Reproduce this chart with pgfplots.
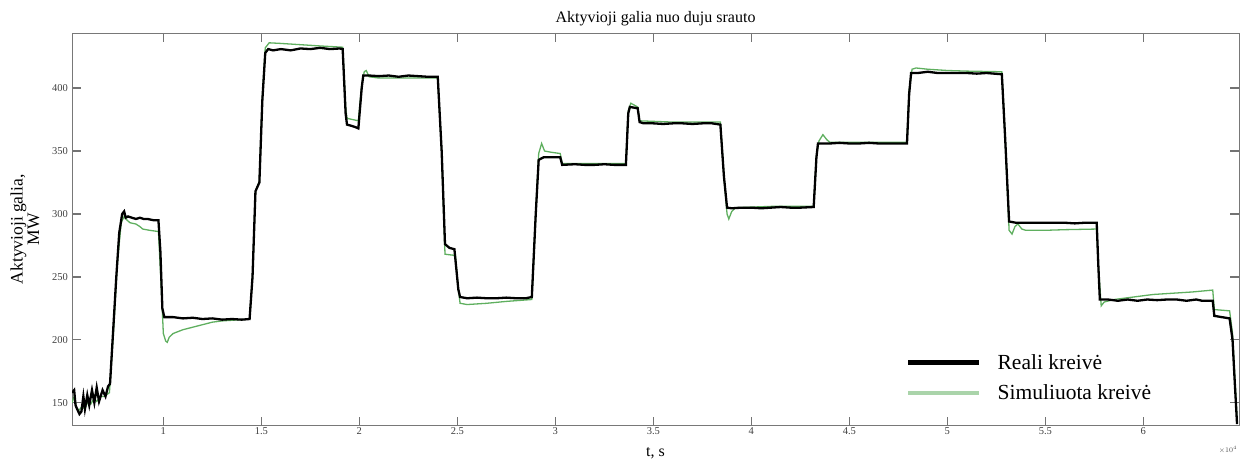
\documentclass[border=0pt]{standalone}
\usepackage{fontspec}
\setmainfont{Liberation Serif}
\usepackage{pgfplots}
\pgfplotsset{compat=1.18}
\definecolor{simgreen}{RGB}{95,175,95}
\definecolor{leggreen}{RGB}{170,212,170}
\definecolor{axgray}{RGB}{120,120,120}
\begin{document}
\begin{tikzpicture}
\begin{axis}[name=ax, scale only axis, width=1167pt, height=392.6pt,
  xmin=0.534, xmax=6.488, ymin=131.8, ymax=443.8,
  xtick={1,1.5,2,2.5,3,3.5,4,4.5,5,5.5,6},
  ytick={150,200,250,300,350,400},
  xticklabels={1,1.5,2,2.5,3,3.5,4,4.5,5,5.5,6},
  yticklabels={150,200,250,300,350,400},
  axis line style={axgray, line width=0.8pt},
  ticklabel style={font=\fontsize{10.5}{12}\selectfont, text=black!75},
  yticklabel style={inner sep=1pt, xshift=-3pt},
  xticklabel style={inner sep=1pt, yshift=-1pt},
  xtick pos=both, ytick pos=both,
  xtick align=inside, ytick align=inside,
  major tick length=9pt,
  tick style={color=black!55, line width=1.3pt},
  title={Aktyvioji galia nuo duju srauto},
  title style={font=\fontsize{16}{18}\selectfont, at={(0.5,1)}, anchor=base, yshift=4pt, inner sep=0pt},
  xlabel={t, s},
  xlabel style={font=\fontsize{16}{18}\selectfont, at={(0.5,0)}, anchor=base, yshift=-31pt, inner sep=0pt},
  ylabel={Aktyvioji galia,\\MW},
  ylabel style={font=\fontsize{17.5}{16.5}\selectfont, align=center, at={(-0.0403,0.5)}, anchor=center, inner sep=0pt},
  legend image code/.code={\draw[#1] (0pt,0pt) -- (71pt,0pt);},
  legend style={at={(0.7146,0.122)}, anchor=west, draw=none, fill=none, inner sep=0pt,
    font=\fontsize{21.5}{24}\selectfont, row sep=10pt, column sep=14pt,
    nodes={inner sep=2pt}},
  legend cell align=left,
]
\addlegendimage{black, line width=4.5pt}
\addlegendentry{Reali kreivė}
\addlegendimage{leggreen, line width=4.5pt}
\addlegendentry{Simuliuota kreivė}

\addplot[simgreen, line width=1.3pt, forget plot] coordinates {
(0.534,150)(0.545,155)(0.556,146)(0.570,144)(0.585,147)(0.600,145)
(0.615,151)(0.630,149)(0.645,153)(0.660,151)(0.680,155)(0.700,155)(0.725,158)
(0.745,205)(0.765,260)(0.785,293)(0.800,298)(0.815,295)(0.830,293)(0.860,292)
(0.880,290)(0.895,288)(0.930,287)(0.975,286)(0.990,240)(1.000,205)(1.012,199)
(1.020,198)(1.030,202)(1.050,205)(1.10,208)(1.15,210)(1.20,212)(1.25,214)
(1.30,215)(1.40,216)(1.44,216.5)(1.455,250)(1.470,318)(1.490,326)(1.505,392)
(1.520,432)(1.540,436)(1.60,435.5)(1.70,434.5)(1.80,433.5)(1.915,432.5)
(1.930,385)(1.937,376)(1.995,374)(2.012,402)(2.025,413)(2.035,414)(2.05,409)
(2.10,408)(2.20,408)(2.30,408)(2.40,408)(2.420,350)(2.437,268)(2.490,267)
(2.505,240)(2.514,229)(2.55,228)(2.65,229)(2.75,230.5)(2.880,232)(2.900,300)
(2.915,348)(2.930,356)(2.945,350)(2.98,349)(3.025,348)(3.035,340)(3.20,340)
(3.360,340)(3.372,382)(3.385,388)(3.42,385)(3.430,374)(3.60,373)(3.842,373)
(3.860,330)(3.876,300)(3.885,296)(3.900,302)(3.92,305)(4.10,306)(4.318,306)
(4.332,346)(4.345,358)(4.365,363)(4.385,359)(4.40,357)(4.60,357)(4.794,357)
(4.805,398)(4.820,415)(4.840,416)(4.90,415)(5.00,414)(5.10,413.5)(5.278,413)
(5.295,360)(5.315,287)(5.330,284)(5.345,290)(5.360,292)(5.380,288)(5.40,287)
(5.50,287)(5.60,287.5)(5.762,288)(5.770,260)(5.785,227)(5.800,230)(5.85,232)
(5.95,234)(6.05,236)(6.15,237)(6.25,238)(6.354,239.5)(6.362,224)(6.44,223)
(6.455,205)(6.465,175)(6.478,137)
};
\addplot[black, line width=2.3pt, forget plot] coordinates {
(0.534,158)(0.545,160)(0.552,148)(0.560,145)(0.572,141)(0.582,143)(0.592,155)
(0.600,145)(0.612,156)(0.622,148)(0.636,160)(0.648,150)(0.660,162)(0.672,151)
(0.690,160)(0.705,155)(0.718,163)(0.728,165)(0.745,210)(0.760,250)
(0.775,285)(0.790,300)(0.800,302)(0.808,297)(0.820,298)(0.840,297)(0.860,296)
(0.880,297)(0.900,296)(0.920,296)(0.950,295)(0.975,295)(0.985,270)(0.995,225)
(1.005,218)(1.05,218)(1.10,217)(1.15,217.5)(1.20,216.5)(1.25,217)(1.30,216)
(1.35,216.5)(1.40,216)(1.44,216.5)(1.455,250)(1.470,318)(1.490,325)(1.505,390)
(1.520,428)(1.535,431)(1.56,430)(1.60,431)(1.65,430)(1.70,431.5)(1.75,431)
(1.80,432)(1.85,431)(1.90,431.5)(1.915,431)(1.930,380)(1.937,371)(1.96,370)
(1.98,369)(1.995,368)(2.012,400)(2.020,410)(2.05,410)(2.10,409.5)(2.15,410)
(2.20,409)(2.25,410)(2.30,409.5)(2.35,409)(2.40,409)(2.420,350)(2.437,276)
(2.460,273)(2.485,272)(2.505,240)(2.514,234)(2.55,233)(2.60,233.5)(2.65,233)
(2.70,233)(2.75,233.5)(2.80,233)(2.85,233)(2.880,234)(2.900,300)(2.915,343)
(2.94,345)(2.98,345)(3.025,345)(3.035,339)(3.10,339.5)(3.15,339)(3.20,339)
(3.25,339.5)(3.30,339)(3.360,339)(3.372,380)(3.38,385)(3.42,384)(3.430,373)
(3.45,372)(3.50,372)(3.55,371.5)(3.60,372)(3.65,372)(3.70,371.5)(3.75,372)
(3.80,372)(3.842,371)(3.860,330)(3.876,305)(3.90,304.5)(3.95,305)(4.00,305)
(4.05,304.5)(4.10,305)(4.15,305.5)(4.20,305)(4.25,305)(4.318,305.5)(4.332,345)
(4.340,356)(4.40,356)(4.45,356.5)(4.50,356)(4.55,356)(4.60,356.5)(4.65,356)
(4.70,356)(4.794,356)(4.805,395)(4.815,412)(4.85,412)(4.90,413)(4.95,412)
(5.00,412)(5.05,412)(5.10,412)(5.15,411.5)(5.20,412)(5.278,411)(5.295,360)
(5.315,294)(5.35,293)(5.40,293)(5.45,293)(5.50,293)(5.55,293)(5.60,293)
(5.65,292.5)(5.70,293)(5.762,293)(5.770,260)(5.778,232)(5.82,232)(5.87,231)
(5.92,232)(5.97,231)(6.02,232)(6.07,231.5)(6.12,232)(6.17,232)(6.22,231)
(6.27,232)(6.30,231)(6.354,231)(6.362,219)(6.40,218)(6.44,217)(6.455,200)
(6.465,170)(6.478,133)
};
\end{axis}
\node[font=\fontsize{7}{8}\selectfont, text=black!70] at ([xshift=-11pt,yshift=-24pt]ax.south east) {$\times10^{4}$};
\pgfresetboundingbox
\path ([xshift=-72pt,yshift=-36.4pt]ax.south west) rectangle ([xshift=11pt,yshift=33pt]ax.north east);
\end{tikzpicture}
\end{document}
